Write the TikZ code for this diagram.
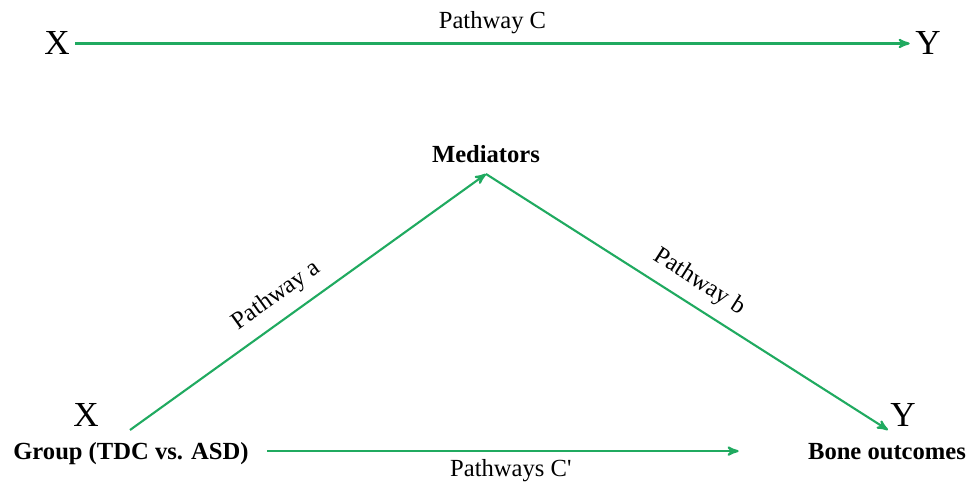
\documentclass[tikz,border=0pt]{standalone}
\usepackage{fontspec}
\setmainfont{Liberation Serif}
\usetikzlibrary{arrows, positioning}
\definecolor{pathgreen}{RGB}{32,170,96}
\tikzset{
  >=stealth', % arrow heads
  pathway/.style={->, draw=pathgreen, line width=1.2pt}, % the green connectors
  bigvar/.style={font=\fontsize{20}{24}\selectfont, inner sep=3pt}, % the X and Y letters
  pathtext/.style={font=\fontsize{14}{16}\selectfont, text=black}, % pathway names
  boldtext/.style={font=\fontsize{14}{16}\selectfont\bfseries, text height=9pt, text depth=0pt}, % variable names
}

\begin{document}
\begin{tikzpicture}[x=0.02cm, y=-0.02cm]
    \useasboundingbox (0,0) rectangle (974,486);

    % simple model
    \node[bigvar, anchor=base] (X_TOP) at (57,55) {X};
    \node[bigvar, anchor=base] (Y_TOP) at (928,55) {Y};

    % mediation model
    \node[boldtext, anchor=base] (MEDIATORS) at (486,163) {Mediators};
    \node[bigvar, anchor=base] (X_BOT) at (86,426) {X};
    \node[bigvar, anchor=base] (Y_BOT) at (903,426) {Y};
    \node[boldtext, anchor=base] (GROUP) at (131,459) {Group (TDC vs. ASD)};
    \node[boldtext, anchor=base] (BONE) at (887,459) {Bone outcomes};
    \coordinate (A_START) at (130,430);
    \coordinate (APEX) at (486,174);
    \coordinate (B_END) at (888,430);

    \draw[pathway] (X_TOP) -- node[pathtext, above=1.5pt] {Pathway C} (Y_TOP);
    \draw[pathway] (A_START) -- node[pathtext, sloped, above=3pt, pos=0.45] {Pathway a} (APEX);
    \draw[pathway] (APEX) -- node[pathtext, sloped, above=3pt, pos=0.5] {Pathway b} (B_END);
    \draw[pathway, shorten <=7pt, shorten >=36pt] (GROUP) -- node[pathtext, below=1pt, pos=0.468] {Pathways C\textquotesingle} (BONE);
\end{tikzpicture}
\end{document}
